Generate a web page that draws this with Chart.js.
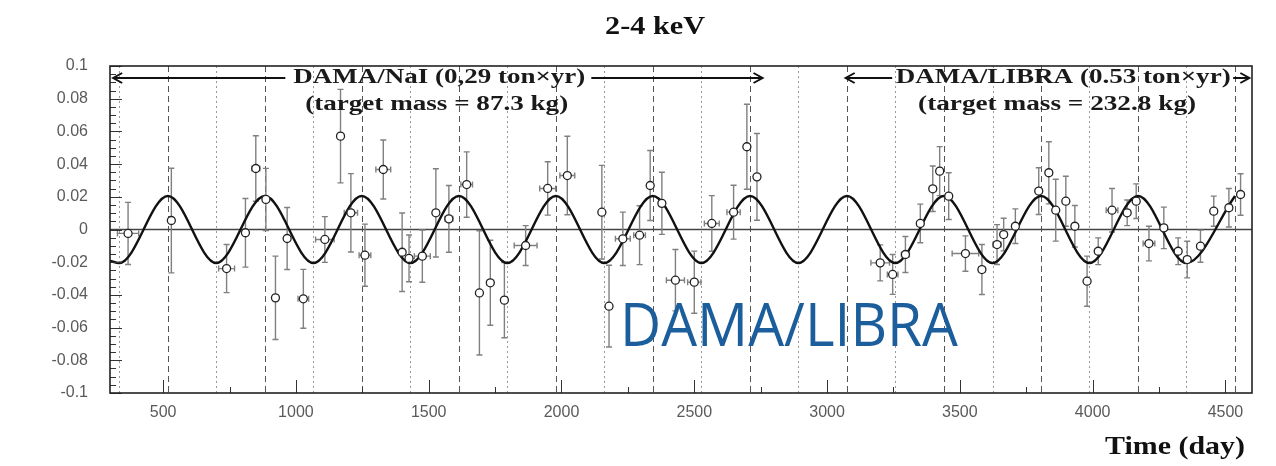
<!DOCTYPE html>
<html>
<head>
<meta charset="utf-8">
<script src="https://cdn.jsdelivr.net/npm/chart.js@4/dist/chart.umd.min.js"></script>
<style>
  html, body { margin: 0; padding: 0; background: #fff; }
  #c { display: block; }
</style>
</head>
<body>
<canvas id="c" width="1276" height="466"></canvas>
<script>
// residual rate (cpd/kg/keV) vs time (day)
const days = [368, 531, 739, 810, 849, 887, 923, 967, 1028, 1109, 1168, 1207, 1260, 1329, 1400, 1426, 1476,
  1527, 1576, 1643, 1691, 1732, 1785, 1865, 1948, 2022, 2152, 2179, 2231, 2294, 2334, 2378, 2429, 2500,
  2566, 2648, 2698, 2736, 3200, 3247, 3295, 3351, 3398, 3424, 3458, 3521, 3583, 3640, 3665, 3709, 3797,
  3835, 3861, 3899, 3933, 3979, 4021, 4073, 4130, 4164, 4212, 4268, 4322, 4356, 4406, 4456, 4513, 4557];
const residuals = [-0.0024, 0.0055, -0.0239, -0.002, 0.0373, 0.0184, -0.0418, -0.0055, -0.0424, -0.0061, 0.0571,
  0.0102, -0.0157, 0.0367, -0.0139, -0.0177, -0.0163, 0.0102, 0.0065, 0.0275, -0.0388, -0.0326, -0.0432,
  -0.0098, 0.0251, 0.033, 0.0106, -0.0469, -0.0057, -0.0035, 0.0269, 0.016, -0.031, -0.0322, 0.0037,
  0.0106, 0.0506, 0.0322, -0.0204, -0.0275, -0.0153, 0.0037, 0.0249, 0.0357, 0.0204, -0.0147, -0.0245,
  -0.0092, -0.0031, 0.002, 0.0235, 0.0347, 0.0118, 0.0173, 0.002, -0.0316, -0.0133, 0.0118, 0.0102,
  0.0173, -0.0086, 0.001, -0.0133, -0.0184, -0.0102, 0.0112, 0.0133, 0.0214];
const yErr = [0.019, 0.032, 0.0147, 0.021, 0.02, 0.019, 0.0255, 0.019, 0.018, 0.014, 0.0286, 0.024, 0.019, 0.018,
  0.024, 0.0143, 0.016, 0.027, 0.0204, 0.02, 0.038, 0.026, 0.023, 0.0122, 0.0163, 0.024, 0.0286, 0.025,
  0.0163, 0.018, 0.0214, 0.019, 0.0188, 0.019, 0.017, 0.0165, 0.026, 0.0265, 0.011, 0.0122, 0.011, 0.0118,
  0.0139, 0.015, 0.0143, 0.0108, 0.0153, 0.0122, 0.01, 0.0106, 0.0143, 0.019, 0.0189, 0.0153, 0.0127,
  0.0153, 0.0082, 0.0133, 0.0078, 0.0106, 0.0106, 0.0127, 0.0082, 0.0112, 0.0098, 0.0092, 0.0118, 0.0127];
const xErr = [40, 10, 30, 10, 15, 10, 10, 10, 20, 35, 8, 25, 22, 28, 12, 10, 30, 10, 15, 22, 10, 12, 10, 43, 30,
  28, 8, 8, 28, 22, 10, 10, 34, 25, 28, 25, 8, 8, 35, 20, 15, 12, 12, 10, 10, 50, 12, 15, 12, 12, 12, 12,
  10, 10, 12, 8, 12, 22, 12, 10, 22, 12, 12, 12, 12, 12, 12, 12];

// modulation fit curve: its maxima / minima
const fitDays = [300, 335, 518, 700, 883, 1066, 1248, 1431, 1614, 1796, 1979, 2161, 2344, 2527, 2710,
  2892, 3075, 3257, 3440, 3623, 3806, 3988, 4171, 4353, 4536];
const fitValues = [-0.0192, -0.0205, 0.0205, -0.0205, 0.0205, -0.0205, 0.0205, -0.0205, 0.0205, -0.0205,
  0.0205, -0.0205, 0.0205, -0.0205, 0.0205, -0.0205, 0.0205, -0.0205, 0.0205, -0.0205, 0.0205, -0.0205,
  0.0205, -0.0205, 0.0205];

// guide lines: dashed = June 2 (expected max), dotted = expected min
const peakDays = [518, 883, 1248, 1614, 1979, 2344, 2710, 3075, 3440, 3806, 4171, 4536];
const troughDays = [335, 700, 1066, 1431, 1796, 2161, 2527, 2892, 3257, 3623, 3988, 4353];

const xTicks = [500, 1000, 1500, 2000, 2500, 3000, 3500, 4000, 4500];
const yTicks = [-0.1, -0.08, -0.06, -0.04, -0.02, 0, 0.02, 0.04, 0.06, 0.08, 0.1];

function fitText(ctx, str, cx, cy, w, font, color) {
  ctx.save();
  ctx.font = font;
  ctx.fillStyle = color;
  ctx.textAlign = 'center';
  ctx.textBaseline = 'middle';
  const m = ctx.measureText(str).width;
  ctx.translate(cx, cy);
  ctx.scale(w / m, 1);
  ctx.fillText(str, 0, 0);
  ctx.restore();
}

function arrow(ctx, x1, x2, y, dir) {
  // dir = -1 : head at x1, dir = 1 : head at x2
  ctx.beginPath();
  ctx.moveTo(x1, y); ctx.lineTo(x2, y);
  ctx.stroke();
  const hx = dir < 0 ? x1 : x2;
  ctx.beginPath();
  ctx.moveTo(hx - dir * 9, y - 5);
  ctx.lineTo(hx, y);
  ctx.lineTo(hx - dir * 9, y + 5);
  ctx.stroke();
}

const overlay = {
  id: 'overlay',
  beforeDatasetsDraw(chart) {
    const { ctx, chartArea: a, scales: { x, y } } = chart;
    ctx.save();
    ctx.beginPath();
    ctx.rect(a.left, a.top, a.width, a.height);
    ctx.clip();

    ctx.lineWidth = 1;
    ctx.strokeStyle = '#999';
    ctx.setLineDash([2, 3]);
    troughDays.forEach(d => {
      const px = Math.round(x.getPixelForValue(d)) + 0.5;
      ctx.beginPath(); ctx.moveTo(px, a.top); ctx.lineTo(px, a.bottom); ctx.stroke();
    });
    ctx.strokeStyle = '#555';
    ctx.setLineDash([6, 4]);
    peakDays.forEach(d => {
      const px = Math.round(x.getPixelForValue(d)) + 0.5;
      ctx.beginPath(); ctx.moveTo(px, a.top); ctx.lineTo(px, a.bottom); ctx.stroke();
    });
    ctx.setLineDash([]);

    // zero line
    const y0 = y.getPixelForValue(0);
    ctx.strokeStyle = '#444';
    ctx.lineWidth = 1.6;
    ctx.beginPath(); ctx.moveTo(a.left, y0); ctx.lineTo(a.right, y0); ctx.stroke();

    // error bars
    ctx.strokeStyle = '#808080';
    ctx.lineWidth = 1.4;
    days.forEach((d, i) => {
      const px = x.getPixelForValue(d);
      const py = y.getPixelForValue(residuals[i]);
      const top = y.getPixelForValue(residuals[i] + yErr[i]);
      const bot = y.getPixelForValue(residuals[i] - yErr[i]);
      const l = x.getPixelForValue(d - xErr[i]);
      const r = x.getPixelForValue(d + xErr[i]);
      ctx.beginPath();
      ctx.moveTo(px, top); ctx.lineTo(px, bot);
      ctx.moveTo(px - 3, top); ctx.lineTo(px + 3, top);
      ctx.moveTo(px - 3, bot); ctx.lineTo(px + 3, bot);
      ctx.moveTo(l, py); ctx.lineTo(r, py);
      ctx.moveTo(l, py - 3); ctx.lineTo(l, py + 3);
      ctx.moveTo(r, py - 3); ctx.lineTo(r, py + 3);
      ctx.stroke();
    });
    ctx.restore();
  },
  afterDraw(chart) {
    const { ctx, chartArea: a, scales: { x, y } } = chart;
    ctx.save();

    // inner ticks
    ctx.strokeStyle = '#333';
    ctx.lineWidth = 1;
    for (let k = -20; k <= 20; k++) {
      const py = Math.round(y.getPixelForValue(k * 0.005)) + 0.5;
      const len = k % 4 === 0 ? 12 : 6;
      ctx.beginPath(); ctx.moveTo(a.left, py); ctx.lineTo(a.left + len, py); ctx.stroke();
    }
    for (let d = 500; d <= 4500; d += 250) {
      const px = Math.round(x.getPixelForValue(d)) + 0.5;
      const len = d % 500 === 0 ? 13 : 6;
      ctx.beginPath(); ctx.moveTo(px, a.bottom); ctx.lineTo(px, a.bottom - len); ctx.stroke();
    }

    // frame
    ctx.strokeStyle = '#222';
    ctx.lineWidth = 1.6;
    ctx.strokeRect(a.left, a.top, a.width, a.height);

    // title and axis title
    fitText(ctx, '2-4 keV', 655, 27, 100, 'bold 26px "Liberation Serif", serif', '#111');
    fitText(ctx, 'Time (day)', 1175, 448, 140, 'bold 25px "Liberation Serif", serif', '#111');

    // data-taking period labels
    const serif = 'bold 20px "Liberation Serif", "DejaVu Serif", serif';
    const r1 = a.top + 12, r2 = a.top + 39;
    fitText(ctx, 'DAMA/NaI (0,29 ton\u00d7yr)', x.getPixelForValue(1540), r1, 292, serif, '#1a1a1a');
    fitText(ctx, '(target mass = 87.3 kg)', x.getPixelForValue(1530), r2, 263, serif, '#1a1a1a');
    fitText(ctx, 'DAMA/LIBRA (0.53 ton\u00d7yr)', x.getPixelForValue(3889), r1, 335, serif, '#1a1a1a');
    fitText(ctx, '(target mass = 232.8 kg)', x.getPixelForValue(3866), r2, 278, serif, '#1a1a1a');

    ctx.strokeStyle = '#111';
    ctx.lineWidth = 2;
    const nL = x.getPixelForValue(1540) - 146, nR = x.getPixelForValue(1540) + 146;
    arrow(ctx, x.getPixelForValue(312), nL - 8, r1, -1);
    arrow(ctx, nR + 6, x.getPixelForValue(2757), r1, 1);
    const lL = x.getPixelForValue(3889) - 167, lR = x.getPixelForValue(3889) + 167;
    arrow(ctx, x.getPixelForValue(3070), lL - 4, r1, -1);
    arrow(ctx, lR + 3, x.getPixelForValue(4590), r1, 1);

    // overlay label
    ctx.textAlign = 'left';
    ctx.textBaseline = 'alphabetic';
    ctx.font = '60px "Open Sans", "Noto Sans", sans-serif';
    ctx.fillStyle = '#1b5e9b';
    const w = ctx.measureText('DAMA/LIBRA').width;
    ctx.translate(620, 346);
    ctx.scale(338 / w, 1);
    ctx.fillText('DAMA/LIBRA', 0, 0);
    ctx.restore();
  }
};

const tickFont = { family: '"Liberation Sans", Arial, sans-serif', size: 16 };

new Chart(document.getElementById('c'), {
  type: 'scatter',
  data: {
    datasets: [
      {
        type: 'line',
        data: fitDays.map((d, i) => ({ x: d, y: fitValues[i] })),
        borderColor: '#111',
        borderWidth: 2.4,
        pointRadius: 0,
        cubicInterpolationMode: 'monotone',
        fill: false,
        order: 2
      },
      {
        data: days.map((d, i) => ({ x: d, y: residuals[i] })),
        pointRadius: 4,
        pointStyle: 'circle',
        borderColor: '#222',
        backgroundColor: '#fff',
        borderWidth: 1.3,
        order: 1
      }
    ]
  },
  options: {
    responsive: false,
    devicePixelRatio: 1,
    animation: false,
    layout: { padding: { left: 0, right: 24, top: 66, bottom: 0 } },
    plugins: {
      legend: { display: false },
      tooltip: { enabled: false },
      title: { display: false }
    },
    scales: {
      x: {
        type: 'linear',
        min: 300,
        max: 4600,
        afterBuildTicks: s => { s.ticks = xTicks.map(v => ({ value: v })); },
        afterFit: s => { s.height = 73; },
        grid: { display: false, drawTicks: false },
        border: { display: false },
        ticks: {
          font: tickFont,
          color: '#5a5a5a',
          padding: 10,
          maxRotation: 0,
          autoSkip: false,
          callback: v => String(v)
        }
      },
      y: {
        min: -0.1,
        max: 0.1,
        afterBuildTicks: s => { s.ticks = yTicks.map(v => ({ value: v })); },
        afterFit: s => { s.width = 110; },
        grid: { display: false, drawTicks: false },
        border: { display: false },
        ticks: {
          font: tickFont,
          color: '#5a5a5a',
          padding: 22,
          callback: v => Math.abs(v) < 1e-9 ? '0' : String(+v.toFixed(2))
        }
      }
    }
  },
  plugins: [overlay]
});
</script>
</body>
</html>
